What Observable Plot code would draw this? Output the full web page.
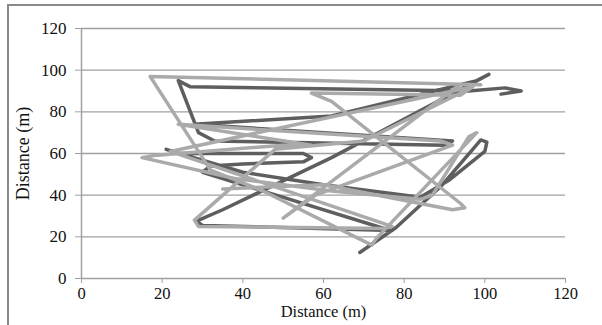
<!DOCTYPE html>
<html>
<head>
<meta charset="utf-8">
<script src="https://cdn.jsdelivr.net/npm/d3@7"></script>
<script src="https://cdn.jsdelivr.net/npm/@observablehq/plot@0.6"></script>
<style>
  html, body { margin: 0; padding: 0; background: #fff; }
  #wrap { position: relative; width: 602px; height: 325px; overflow: hidden; }
  #frame { position: absolute; left: 7px; top: 4px; width: 620px; height: 340px; border: 2px solid #8a8a8a; box-sizing: border-box; }
  #chart { position: absolute; left: 0; top: 0; }
  svg text { font-family: "Liberation Serif", "Times New Roman", serif; }
</style>
</head>
<body>
<div id="wrap"><div id="frame"></div><div id="chart"></div></div>
<script>
const xTicks = [0, 20, 40, 60, 80, 100, 120];
const yTicks = [0, 20, 40, 60, 80, 100, 120];
const xLabel = "Distance (m)";
const yLabel = "Distance (m)";

// Dark grey track
const darkX = [69, 78, 89, 97, 99, 100.5, 100, 91, 84, 60, 40, 21, 24, 55, 57, 55, 40, 32, 30, 75, 77, 30, 28.5, 35, 62, 101, 98, 62, 28, 92, 90, 33, 29, 24, 27, 96, 105, 109, 104];
const darkY = [12.5, 24.5, 44, 62, 66.5, 65.5, 61, 47, 39, 45, 51, 62, 60, 60, 58, 56, 55, 54, 51, 24, 23, 25.5, 27.5, 33, 58, 98, 95, 78, 74, 66, 64, 66, 70, 95, 92, 90, 91.5, 90, 88.5];

// Light grey track
const lightX = [99, 17, 32, 45, 72, 73, 98, 96, 87, 84, 62, 38, 15, 18, 50, 57, 24, 89, 92, 58, 50, 93, 95, 70, 48, 28, 29, 75, 77, 22, 97, 94, 57, 62, 94, 95, 92, 60, 35];
const lightY = [93, 97, 52, 42, 16, 19, 70, 68, 40, 38, 42, 48, 58, 59, 64, 64, 74, 66, 64, 40, 29, 92, 90, 66, 62, 28, 25, 24, 25, 61, 92, 88, 89, 85, 36, 34, 33, 45, 43];

const dark = darkX.map((x, i) => ({x, y: darkY[i]}));
const light = lightX.map((x, i) => ({x, y: lightY[i]}));

const chart = Plot.plot({
  width: 602,
  height: 325,
  marginLeft: 81,
  marginRight: 37,
  marginTop: 28,
  marginBottom: 47,
  style: {fontFamily: "Liberation Serif, serif", fontSize: "16px", color: "#111", background: "transparent"},
  x: {domain: [0, 120]},
  y: {domain: [0, 120]},
  marks: [
    Plot.gridY(yTicks.filter(d => d > 0), {stroke: "#a0a0a0", strokeOpacity: 1, strokeWidth: 1.3}),
    Plot.ruleX([0], {stroke: "#a0a0a0", strokeWidth: 1.5}),
    Plot.ruleY([0], {stroke: "#a0a0a0", strokeWidth: 1.5}),
    Plot.axisX(xTicks, {tickSize: 5, tickPadding: 4, stroke: "#a0a0a0", fill: "#111", fontSize: 16.5, label: null}),
    Plot.axisY(yTicks, {tickSize: 6, tickPadding: 9, stroke: "#a0a0a0", fill: "#111", fontSize: 17, label: null}),
    Plot.text([xLabel], {frameAnchor: "bottom", dy: 38, fontSize: 16.5, fill: "#111"}),
    Plot.text([yLabel], {frameAnchor: "left", dx: -58, rotate: -90, textAnchor: "middle", fontSize: 18, fill: "#111"}),
    Plot.line(dark, {x: "x", y: "y", stroke: "#5e5e5e", strokeWidth: 3.5, strokeLinejoin: "round", strokeLinecap: "round"}),
    Plot.line(light, {x: "x", y: "y", stroke: "#aaaaaa", strokeWidth: 3.5, strokeLinejoin: "round", strokeLinecap: "round"})
  ]
});
document.getElementById("chart").appendChild(chart);
</script>
</body>
</html>
